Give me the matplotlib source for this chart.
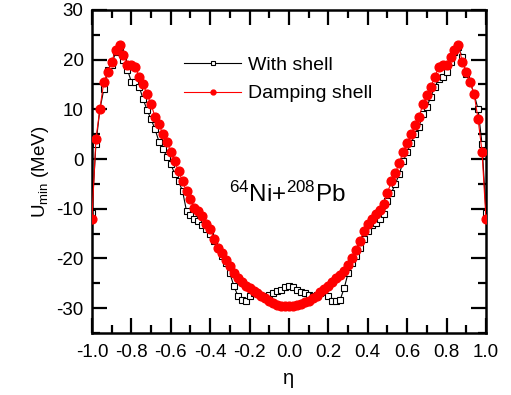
import matplotlib
matplotlib.use("Agg")
from matplotlib import pyplot as plt
from matplotlib.lines import Line2D

plt.rcParams['font.family'] = ['Liberation Sans', 'DejaVu Sans']
plt.rcParams['mathtext.fontset'] = 'custom'
plt.rcParams['mathtext.rm'] = 'Liberation Sans'
plt.rcParams['mathtext.it'] = 'Liberation Sans:italic'
plt.rcParams['axes.unicode_minus'] = False

# eta grid, step 0.02
eta = [-1.00, -0.98, -0.96, -0.94, -0.92, -0.90, -0.88, -0.86, -0.84, -0.82,
       -0.80, -0.78, -0.76, -0.74, -0.72, -0.70, -0.68, -0.66, -0.64, -0.62,
       -0.60, -0.58, -0.56, -0.54, -0.52, -0.50, -0.48, -0.46, -0.44, -0.42,
       -0.40, -0.38, -0.36, -0.34, -0.32, -0.30, -0.28, -0.26, -0.24, -0.22,
       -0.20, -0.18, -0.16, -0.14, -0.12, -0.10, -0.08, -0.06, -0.04, -0.02,
       0.00, 0.02, 0.04, 0.06, 0.08, 0.10, 0.12, 0.14, 0.16, 0.18,
       0.20, 0.22, 0.24, 0.26, 0.28, 0.30, 0.32, 0.34, 0.36, 0.38,
       0.40, 0.42, 0.44, 0.46, 0.48, 0.50, 0.52, 0.54, 0.56, 0.58,
       0.60, 0.62, 0.64, 0.66, 0.68, 0.70, 0.72, 0.74, 0.76, 0.78,
       0.80, 0.82, 0.84, 0.86, 0.88, 0.90, 0.92, 0.94, 0.96, 0.98, 1.00]

with_shell = [-10.8, 3.0, 10.0, 14.0, 18.0, 19.0, 21.5, 22.5, 20.0, 18.0,
              15.5, 15.5, 14.5, 12.0, 9.8, 8.0, 6.0, 3.5, 2.0, 0.5,
              -1.0, -3.0, -4.5, -6.5, -10.5, -11.3, -12.0, -12.5, -13.3, -14.0,
              -15.0, -16.5, -18.0, -19.5, -21.0, -23.0, -25.5, -27.5, -28.3, -28.5,
              -27.5, -27.0, -27.0, -27.5, -27.5, -27.3, -27.0, -26.5, -26.3, -25.8,
              -25.5, -25.8, -26.3, -26.8, -27.0, -27.3, -27.5, -27.3, -27.0, -26.8,
              -27.5, -28.5, -28.5, -28.3, -26.0, -23.0, -21.0, -19.5, -18.0, -16.0,
              -14.5, -13.3, -12.8, -12.0, -11.0, -8.5, -6.8, -5.0, -3.0, -0.5,
              1.5, 3.2, 5.0, 6.5, 9.0, 10.5, 12.5, 14.5, 16.0, 16.5,
              17.5, 19.5, 21.5, 22.5, 20.5, 17.0, 15.5, 13.0, 10.0, 3.0, -10.8]

damping_shell = [-12.0, 4.0, 10.0, 15.5, 17.5, 19.5, 22.0, 23.0, 21.0, 19.0,
                 19.0, 18.5, 16.5, 15.0, 13.0, 11.0, 8.5, 7.0, 5.0, 3.5,
                 1.5, -0.5, -2.5, -4.5, -6.5, -8.0, -9.8, -10.5, -11.5, -13.0,
                 -14.0, -16.0, -18.0, -19.0, -20.3, -21.5, -23.0, -24.0, -24.8, -25.5,
                 -26.0, -26.5, -27.0, -27.5, -28.0, -28.5, -29.0, -29.3, -29.5, -29.6,
                 -29.6, -29.5, -29.4, -29.2, -28.8, -28.5, -28.0, -27.5, -26.8, -26.2,
                 -25.5, -24.8, -24.0, -23.3, -22.5, -21.3, -20.0, -18.3, -16.5, -14.5,
                 -13.0, -12.0, -11.0, -10.3, -9.0, -6.8, -4.5, -2.8, -0.8, 1.5,
                 3.2, 5.0, 6.8, 8.5, 11.0, 12.8, 14.5, 16.5, 18.5, 19.0,
                 19.0, 20.5, 22.0, 23.0, 19.5, 17.5, 15.5, 13.0, 8.0, 1.5, -12.0]

x_ticks = [-1.0, -0.8, -0.6, -0.4, -0.2, 0.0, 0.2, 0.4, 0.6, 0.8, 1.0]
y_ticks = [-30, -20, -10, 0, 10, 20, 30]


def main():
    fig = plt.figure(figsize=(5.11, 3.95), dpi=100)
    ax = fig.add_axes([0.18, 0.157, 0.771, 0.818])

    ax.plot(eta, with_shell, color='black', lw=0.8, marker='s', ms=4.8,
            mfc='white', mec='black', mew=0.8, zorder=2)
    ax.plot(eta, damping_shell, color='red', lw=0.8, marker='o', ms=6.3,
            mfc='red', mec='red', zorder=3)

    ax.set_xlim(-1.0, 1.0)
    ax.set_ylim(-35, 30)
    ax.set_xticks(x_ticks)
    ax.set_xticklabels([f"{t:.1f}" for t in x_ticks])
    ax.set_xticks([-0.9, -0.7, -0.5, -0.3, -0.1, 0.1, 0.3, 0.5, 0.7, 0.9], minor=True)
    ax.set_yticks(y_ticks)
    ax.set_yticks([-35, -25, -15, -5, 5, 15, 25], minor=True)
    ax.tick_params(which='both', direction='in', top=True, right=True,
                   labelsize=13.5, width=1.6)
    ax.tick_params(axis='x', pad=8)
    ax.tick_params(axis='y', pad=6)
    ax.tick_params(which='major', length=11)
    ax.tick_params(which='minor', length=5.5)
    for sp in ax.spines.values():
        sp.set_linewidth(1.8)

    ax.set_xlabel("η", fontsize=14.5, labelpad=6)
    ax.set_ylabel(r"U$_{\mathrm{min}}$ (MeV)", fontsize=13.5, labelpad=4)

    handles = [
        Line2D([], [], color='black', lw=0.8, marker='s', ms=3, mfc='white',
               mec='black', mew=0.8),
        Line2D([], [], color='red', lw=0.8, marker='o', ms=3.5, mfc='red', mec='red'),
    ]
    ax.legend(handles, ["With shell", "Damping shell"], loc='upper left',
              bbox_to_anchor=(0.19, 0.91), frameon=False, fontsize=14,
              handlelength=2.9, handletextpad=0.35, labelspacing=0.55)

    ax.text(0.495, 0.43, r"$^{64}$Ni+$^{208}$Pb", transform=ax.transAxes,
            ha='center', va='center', fontsize=17.5)

    fig.savefig("out.png", dpi=100)


if __name__ == "__main__":
    main()
